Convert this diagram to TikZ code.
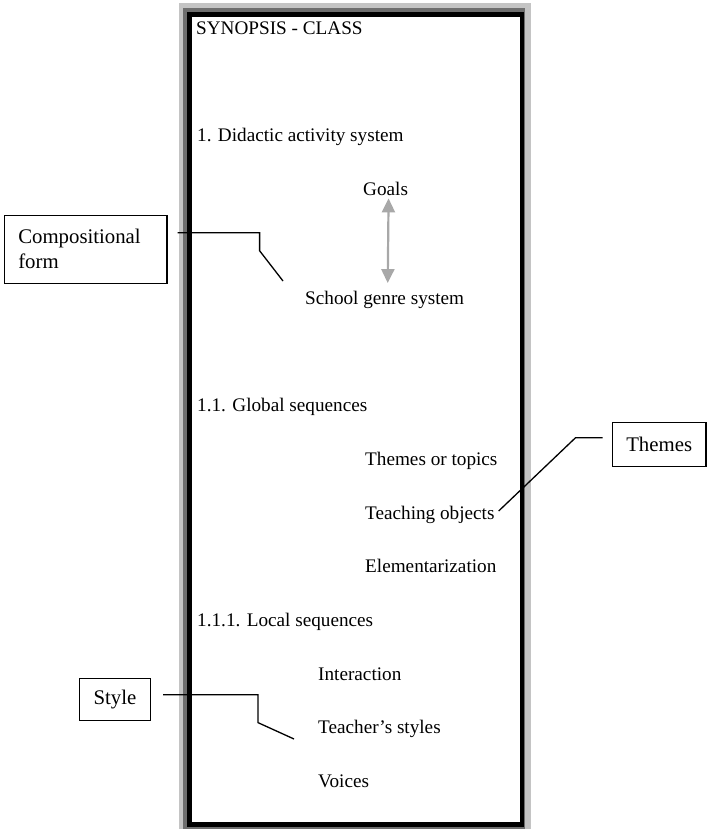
\documentclass[tikz,border=0pt]{standalone}
\usepackage{fontspec}
\setmainfont{Liberation Serif}
\usetikzlibrary{arrows.meta}
\definecolor{framelight}{HTML}{C4C4C4}
\definecolor{framedark}{HTML}{6E6E6E}
\definecolor{arrowgrey}{HTML}{A8A8A8}
\newcommand{\bodysize}{\fontsize{19.2}{23}\selectfont}
\newcommand{\tagsize}{\fontsize{20.8}{25}\selectfont}
\tikzset{
  entry/.style={anchor=base west,inner sep=0pt,font=\bodysize},
  tagbox/.style={draw,line width=1.3pt,font=\tagsize,inner xsep=14pt,
    inner ysep=0pt,align=left,anchor=north west},
  leader/.style={line width=1.3pt},
  goalarrow/.style={arrowgrey,line width=2.2pt,
    {Triangle[width=13pt,length=14pt]}-{Triangle[width=13pt,length=14pt]}},
}

\begin{document}
\begin{tikzpicture}[x=1pt,y=-1pt]
     \useasboundingbox (0,0) rectangle (706,829);
     % frame
     \fill[framelight] (179,3) rectangle (531,829);
     \fill[framedark] (183,8) rectangle (525,829);
     \draw[line width=4.5pt,fill=white] (189.5,14.5) rectangle (522,824.5);
     % entries of the synopsis
     \node[entry] (title)    at (196, 35) {SYNOPSIS - CLASS};
     \node[entry] (didactic) at (197,142) {1. Didactic activity system};
     \node[entry] (goals)    at (363,196) {Goals};
     \node[entry] (genre)    at (305,304) {School genre system};
     \node[entry] (global)   at (197,411) {1.1. Global sequences};
     \node[entry] (topics)   at (365,465) {Themes or topics};
     \node[entry] (objects)  at (365,519) {Teaching objects};
     \node[entry] (element)  at (365,572) {Elementarization};
     \node[entry] (local)    at (197,626) {1.1.1. Local sequences};
     \node[entry] (interact) at (318,680) {Interaction};
     \node[entry] (styles)   at (318,733) {Teacher’s styles};
     \node[entry] (voices)   at (318,787) {Voices};
     \draw[goalarrow,shorten <=2pt,shorten >=7.4pt]
      ([xshift=3pt]goals.south) -- ([xshift=3pt]genre.north);
     % callouts
     \node[tagbox,text width=134.7pt,minimum height=68pt] (compbox)
      at (3.6,214.6) {Compositional\\form};
     \node[tagbox,minimum height=44pt] (themesbox) at (611.6,421.6) {Themes};
     \node[tagbox,minimum height=42pt] (stylebox) at (79,677.6) {Style};
     \coordinate (compend)   at ([xshift=-22pt,yshift=23pt]genre.base west);
     \coordinate (themesend) at ([xshift=4pt,yshift=8pt]objects.base east);
     \coordinate (styleend)  at ([xshift=-24pt,yshift=-6pt]styles.base west);
     \draw[leader] ([xshift=10pt,yshift=16.5pt]compbox.east)
      -- ++(82,0) -- ++(0,18) -- (compend);
     \draw[leader] ([xshift=-9pt,yshift=6.6pt]themesbox.west)
      -- ++(-27,0) -- (themesend);
     \draw[leader] ([xshift=12pt,yshift=4.6pt]stylebox.east)
      -- ++(95,0) -- ++(0,28) -- (styleend);
    \end{tikzpicture}
\end{document}
